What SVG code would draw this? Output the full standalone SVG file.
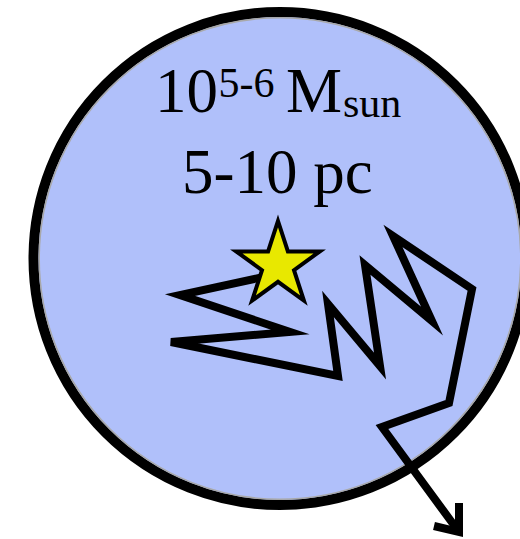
<svg xmlns="http://www.w3.org/2000/svg" width="520" height="539" viewBox="0 0 520 539">
  <style>
    .cloud { fill: #b0c0fa; stroke: #000; stroke-width: 10; }
    .rim { fill: none; stroke: #a8a8a8; stroke-width: 1.5; }
    .t { font-family: "Liberation Serif", "Times New Roman", serif; fill: #000; }
    .walk { fill: none; stroke: #000; stroke-width: 8; stroke-linejoin: miter; stroke-miterlimit: 5; stroke-linecap: butt; }
    .star { fill: #e8e800; stroke: #000; stroke-width: 4; stroke-linejoin: miter; }
  </style>
  <g id="cloud">
    <circle class="cloud" cx="280" cy="258.5" r="246.5"/>
    <circle class="rim" cx="280" cy="258.5" r="240.8"/>
  </g>
  <g id="labels">
    <text class="t"><tspan x="155" y="112" font-size="63">10</tspan><tspan x="218.5" y="97" font-size="42">5-6</tspan><tspan x="286" y="112" font-size="63">M</tspan><tspan x="343" y="117" font-size="42">sun</tspan></text>
    <text class="t" x="182" y="193" font-size="63">5-10 pc</text>
  </g>
  <g id="connectors">
    <path class="walk" d="M268,276 L180,295 L290,332 L171,342 L338,376 L328,304 L380,366 L365,265 L432,321 L393,236 L472,289 L449,403 L382,427 L459,532"/>
    <path class="walk" d="M434,526 L459,532 L459,503"/>
  </g>
  <g id="star">
    <path class="star" d="M278,221 L287.9,251.4 L319.8,251.4 L294,270.2 L303.9,300.6 L278,281.8 L252.1,300.6 L262,270.2 L236.2,251.4 L268.1,251.4 Z"/>
  </g>
</svg>
